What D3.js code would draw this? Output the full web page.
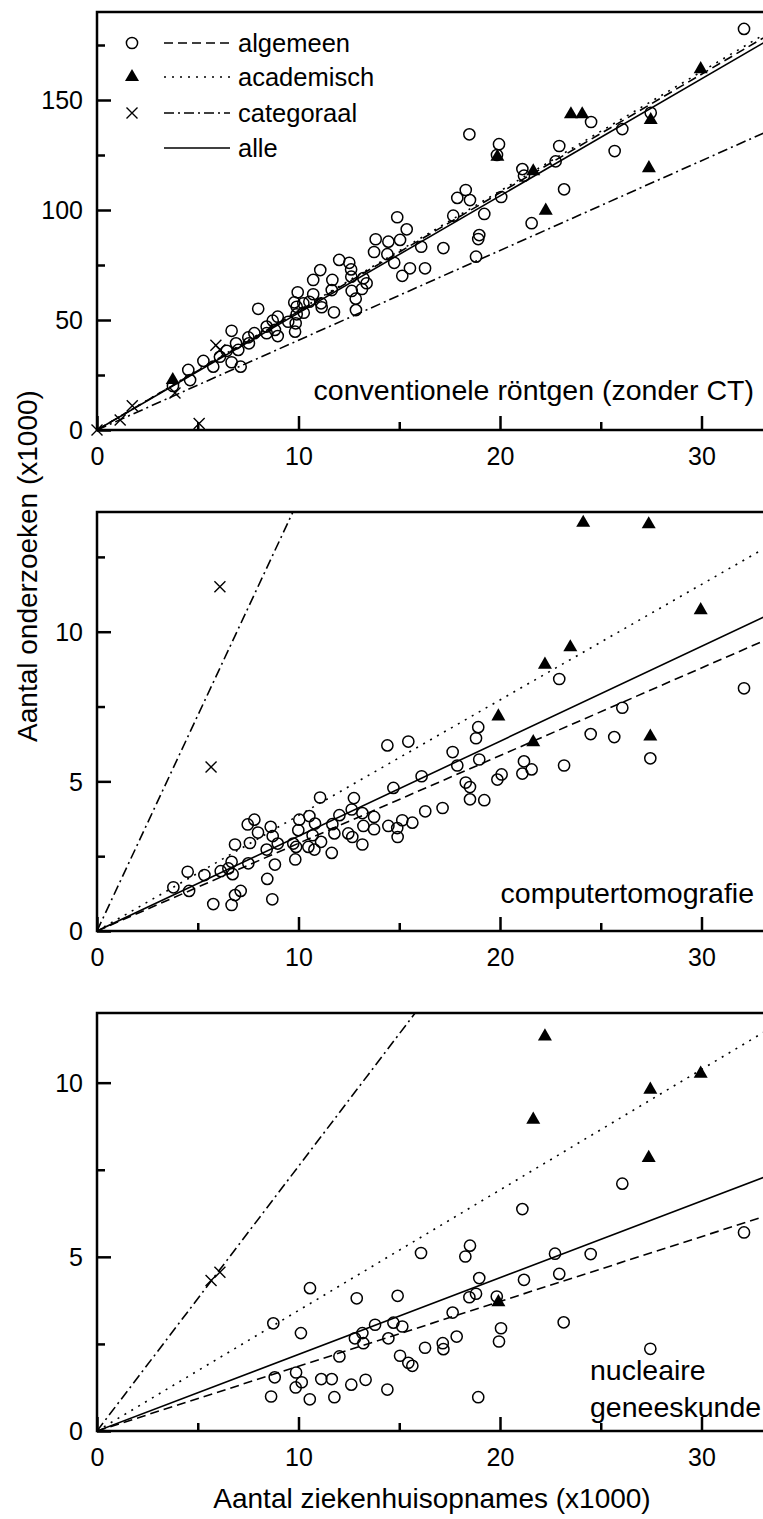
<!DOCTYPE html>
<html>
<head>
<meta charset="utf-8">
<script src="https://cdn.jsdelivr.net/npm/d3@7"></script>
<style>
  body { margin: 0; background: #fff; }
  svg { display: block; font-family: "Liberation Sans", Arial, sans-serif; }
</style>
</head>
<body>
<svg id="chart" width="763" height="1519"></svg>
<script>
// Aantal onderzoeken vs aantal ziekenhuisopnames (beide x1000), per ziekenhuistype

// --- conventionele röntgen ---
var convAlgemeen = [
    [14.9,96.7],[15.37,91.2],[13.83,86.7],[14.46,85.6],[15.04,86.4],[13.75,80.9],[14.41,79.9],[14.75,76.0],
    [15.53,73.5],[15.15,70.1],[12.02,77.3],[12.52,76.0],[12.61,73.0],[11.08,72.7],[12.62,69.7],[13.22,69.0],
    [11.68,68.2],[10.73,68.2],[13.38,66.7],[13.15,64.1],[12.64,63.2],[11.65,63.6],[9.96,62.6],[10.73,61.7],
    [12.84,59.7],[9.79,58.0],[10.24,57.6],[10.54,58.3],[11.12,57.6],[9.91,56.0],[11.15,55.8],[12.85,54.5],
    [11.76,53.5],[10.26,53.3],[9.91,52.6],[8.0,55.1],[8.97,51.5],[8.72,49.7],[8.42,47.0],[9.49,49.2],
    [9.86,48.5],[8.83,45.5],[8.42,44.0],[8.97,42.7],[9.83,44.7],[6.68,45.1],[7.81,44.0],[7.51,42.1],
    [6.9,39.4],[7.54,39.4],[6.44,36.0],[6.1,33.3],[7.01,36.4],[6.68,30.8],[7.13,28.8],[5.28,31.4],
    [5.77,28.8],[4.53,27.3],[4.62,22.7],[3.77,20.0],
    [32.11,182.3],[18.48,134.4],[19.95,129.9],[24.52,140.0],[22.94,129.1],[22.76,122.1],[26.07,136.8],
    [25.69,126.8],[27.48,144.2],[21.11,118.6],[21.19,115.6],[20.06,105.9],[23.18,109.4],[21.57,94.0],
    [18.3,109.1],[17.88,105.5],[18.51,104.5],[17.68,97.4],[19.22,98.2],[16.09,83.3],[17.19,82.7],
    [18.97,88.6],[18.92,86.8],[18.81,78.8],[16.28,73.5],[19.85,125.0]
];
var convAcademisch = [
    [29.96,164.0],[23.52,143.5],[24.08,143.5],[27.48,140.9],[19.87,124.2],[21.65,117.6],
    [22.27,99.7],[27.39,119.0],[3.76,22.7]
];
var convCategoraal = [[0,0],[1.15,4.5],[1.75,11],[3.87,16.8],[5.07,3.0],[5.9,38.5],[6.1,36.5]];
// slopes of the fits through the origin: algemeen, academisch, categoraal, alle
var convSlopes = [5.39, 5.43, 4.08, 5.32];

// --- computertomografie ---
var ctAlgemeen = [
    [14.41,6.2],[14.71,4.78],[11.07,4.46],[12.75,4.44],[7.48,3.56],[7.81,3.72],[8.62,3.48],[7.99,3.29],
    [8.72,3.17],[6.85,2.89],[7.59,2.94],[10.04,3.72],[10.54,3.84],[10.82,3.59],[9.99,3.37],[10.7,3.2],
    [9.88,2.81],[8.97,2.92],[9.74,2.92],[11.12,2.98],[10.49,2.81],[10.79,2.72],[11.65,2.61],[9.84,2.39],
    [11.68,3.57],[12.03,3.87],[11.78,3.26],[12.64,4.06],[13.17,3.94],[13.22,3.51],[13.75,3.81],[13.75,3.4],
    [12.47,3.26],[12.67,3.14],[13.17,2.89],[14.46,3.51],[14.92,3.14],[8.42,2.72],[8.83,2.22],[7.51,2.26],
    [6.68,2.31],[6.73,1.9],[6.14,2.0],[6.52,2.09],[5.33,1.87],[4.5,1.98],[3.79,1.46],[4.57,1.34],
    [8.45,1.74],[7.13,1.34],[6.85,1.2],[6.68,0.87],[5.77,0.9],[8.7,1.06],
    [22.94,8.42],[32.11,8.11],[26.07,7.46],[24.5,6.58],[25.67,6.48],[27.46,5.77],[23.18,5.53],[21.19,5.67],
    [21.11,5.26],[21.57,5.4],[20.08,5.23],[19.87,5.06],[18.92,6.81],[18.81,6.44],[18.97,5.73],[17.65,5.98],
    [17.88,5.53],[16.11,5.17],[15.45,6.33],[18.3,4.96],[18.51,4.81],[18.51,4.4],[19.22,4.37],[17.15,4.11],
    [16.29,4.0],[15.65,3.62],[15.15,3.7],[14.9,3.44]
];
var ctAcademisch = [
    [24.13,13.64],[27.38,13.59],[29.96,10.72],[23.49,9.48],[22.23,8.9],[19.92,7.17],[21.65,6.31],[27.46,6.5]
];
var ctCategoraal = [[6.1,11.5],[5.66,5.48]];
var ctSlopes = [0.293, 0.386, 1.44, 0.317];

// --- nucleaire geneeskunde ---
var nucAlgemeen = [
    [10.57,4.1],[12.89,3.81],[8.75,3.09],[10.12,2.81],[13.8,3.05],[13.17,2.81],[12.8,2.66],[13.22,2.52],
    [12.03,2.14],[21.11,6.37],[18.51,5.32],[18.28,5.01],[16.08,5.11],[18.97,4.39],[21.19,4.34],[14.92,3.88],
    [18.48,3.84],[18.81,3.94],[19.84,3.86],[17.65,3.4],[14.71,3.11],[15.15,3.0],[14.46,2.66],[20.05,2.95],
    [19.95,2.57],[17.85,2.71],[17.16,2.52],[17.19,2.35],[16.28,2.39],[15.04,2.16],[15.45,1.96],[15.65,1.87],
    [9.88,1.68],[10.16,1.4],[8.82,1.54],[9.86,1.25],[11.13,1.49],[11.65,1.49],[12.62,1.33],[13.33,1.47],
    [14.41,1.19],[8.64,0.99],[10.56,0.91],[11.78,0.97],[18.92,0.97],
    [32.11,5.7],[24.5,5.08],[22.73,5.09],[22.94,4.51],[23.16,3.12],[27.46,2.36],[26.07,7.1]
];
var nucAcademisch = [[22.23,11.33],[21.65,8.94],[27.46,9.8],[29.96,10.26],[27.38,7.84],[19.92,3.7]];
var nucCategoraal = [[5.66,4.32],[6.1,4.56]];
var nucSlopes = [0.186, 0.346, 0.76, 0.22];

// ticks
var xTicks = [0, 10, 20, 30];
var xMinorTicks = [5, 15, 25];
var convYTicks = [0, 50, 100, 150];
var convYMinor = [25, 75, 125, 175];
var ctYTicks = [0, 5, 10];
var ctYMinor = [2.5, 7.5, 12.5];
var nucYTicks = [0, 5, 10];
var nucYMinor = [2.5, 7.5];

var groupNames = ["algemeen", "academisch", "categoraal", "alle"];
var xTitle = "Aantal ziekenhuisopnames (x1000)";
var yTitle = "Aantal onderzoeken (x1000)";

(function() {

    var svg = d3.select("#chart");

    // dash pattern per fit line, same order as groupNames
    var dashes = ["9,5", "2,6", "10,4,2,4", null];

    var xMax = 35;
    var left = 97;
    var x = d3.scaleLinear().domain([0, xMax]).range([left, left + xMax * 20.15]);

    // panel boxes, built from the arrays above
    var panels = [
        { id: "conv", top: 12, bottom: 430, yMax: 190, circles: convAlgemeen, triangles: convAcademisch,
          crosses: convCategoraal, slopes: convSlopes, yTicks: convYTicks, yMinor: convYMinor },
        { id: "ct", top: 512, bottom: 931, yMax: 14, circles: ctAlgemeen, triangles: ctAcademisch,
          crosses: ctCategoraal, slopes: ctSlopes, yTicks: ctYTicks, yMinor: ctYMinor },
        { id: "nuc", top: 1013, bottom: 1431, yMax: 12, circles: nucAlgemeen, triangles: nucAcademisch,
          crosses: nucCategoraal, slopes: nucSlopes, yTicks: nucYTicks, yMinor: nucYMinor }
    ];

    var triangle = d3.symbol().type(d3.symbolTriangle).size(85);

    var crossPath = function(cx, cy, s) {
        return "M" + (cx - s) + "," + (cy - s) + "L" + (cx + s) + "," + (cy + s) +
               "M" + (cx - s) + "," + (cy + s) + "L" + (cx + s) + "," + (cy - s);
    };

    panels.forEach(function(p) {
        var y = d3.scaleLinear().domain([0, p.yMax]).range([p.bottom, p.top]);
        var g = svg.append("g").attr("class", "panel-" + p.id);

        svg.append("clipPath").attr("id", "clip-" + p.id)
            .append("rect")
            .attr("x", x(0)).attr("y", y(p.yMax))
            .attr("width", x(xMax) - x(0)).attr("height", y(0) - y(p.yMax));

        // fit lines through the origin
        var lines = g.append("g").attr("clip-path", "url(#clip-" + p.id + ")");
        p.slopes.forEach(function(s, i) {
            lines.append("line")
                .attr("x1", x(0)).attr("y1", y(0))
                .attr("x2", x(xMax)).attr("y2", y(s * xMax))
                .attr("stroke", "#000")
                .attr("stroke-width", 1.6)
                .attr("stroke-dasharray", dashes[i]);
        });

        // markers
        g.selectAll(".circ").data(p.circles).enter()
            .append("circle")
            .attr("class", "circ")
            .attr("cx", function(d) { return x(d[0]); })
            .attr("cy", function(d) { return y(d[1]); })
            .attr("r", 5.6)
            .attr("fill", "none")
            .attr("stroke", "#000")
            .attr("stroke-width", 1.5);

        g.selectAll(".tri").data(p.triangles).enter()
            .append("path")
            .attr("class", "tri")
            .attr("d", triangle)
            .attr("transform", function(d) { return "translate(" + x(d[0]) + "," + y(d[1]) + ")"; })
            .attr("fill", "#000");

        g.selectAll(".crs").data(p.crosses).enter()
            .append("path")
            .attr("class", "crs")
            .attr("d", function(d) { return crossPath(x(d[0]), y(d[1]), 5.5); })
            .attr("stroke", "#000")
            .attr("stroke-width", 1.4)
            .attr("fill", "none");

        // frame
        g.append("rect")
            .attr("x", x(0)).attr("y", y(p.yMax))
            .attr("width", x(xMax) - x(0)).attr("height", y(0) - y(p.yMax))
            .attr("fill", "none")
            .attr("stroke", "#000")
            .attr("stroke-width", 2.5);

        // axes: ticks point inwards
        var yAxis = g.append("g").attr("transform", "translate(" + x(0) + ",0)")
            .call(d3.axisLeft(y).tickValues(p.yTicks).tickSizeInner(-14).tickSizeOuter(0).tickPadding(14));
        var yMinor = g.append("g").attr("transform", "translate(" + x(0) + ",0)")
            .call(d3.axisLeft(y).tickValues(p.yMinor).tickSizeInner(-8).tickSizeOuter(0).tickFormat(""));
        var xAxis = g.append("g").attr("transform", "translate(0," + y(0) + ")")
            .call(d3.axisBottom(x).tickValues(xTicks).tickSizeInner(-14).tickSizeOuter(0).tickPadding(17));
        var xMinor = g.append("g").attr("transform", "translate(0," + y(0) + ")")
            .call(d3.axisBottom(x).tickValues(xMinorTicks).tickSizeInner(-8).tickSizeOuter(0).tickFormat(""));

        [yAxis, yMinor, xAxis, xMinor].forEach(function(a) {
            a.select(".domain").remove();
            a.selectAll("line").attr("stroke-width", 2.5);
            a.selectAll("text")
                .attr("font-family", "Liberation Sans, Arial, sans-serif")
                .attr("font-size", 25)
                .attr("fill", "#000");
        });
        yAxis.selectAll("text").attr("dy", "0.35em");
    });

    // panel names
    var label = function(tx, ty, anchor, txt) {
        svg.append("text")
            .attr("x", tx).attr("y", ty)
            .attr("text-anchor", anchor)
            .attr("font-size", 28.5)
            .text(txt);
    };
    label(754, 400, "end", "conventionele röntgen (zonder CT)");
    label(754, 903, "end", "computertomografie");
    label(590, 1380, "start", "nucleaire");
    label(590, 1417, "start", "geneeskunde");

    // legend (top panel)
    var legend = svg.append("g").attr("class", "legend");
    var rows = [43, 77, 113, 148];
    groupNames.forEach(function(name, i) {
        var ry = rows[i];
        if (i === 0) {
            legend.append("circle").attr("cx", 132).attr("cy", ry).attr("r", 5.6)
                .attr("fill", "none").attr("stroke", "#000").attr("stroke-width", 1.5);
        } else if (i === 1) {
            legend.append("path").attr("d", triangle).attr("transform", "translate(132," + ry + ")");
        } else if (i === 2) {
            legend.append("path").attr("d", crossPath(132, ry, 5.5))
                .attr("stroke", "#000").attr("stroke-width", 1.4);
        }
        legend.append("line")
            .attr("x1", 164).attr("x2", 230).attr("y1", ry).attr("y2", ry)
            .attr("stroke", "#000").attr("stroke-width", 1.6)
            .attr("stroke-dasharray", dashes[i]);
        legend.append("text")
            .attr("x", 238).attr("y", ry + 8.5)
            .attr("font-size", 25.5)
            .text(name);
    });

    // axis titles
    svg.append("text")
        .attr("x", 432).attr("y", 1508)
        .attr("text-anchor", "middle")
        .attr("font-size", 28)
        .text(xTitle);

    svg.append("text")
        .attr("transform", "translate(37,566) rotate(-90)")
        .attr("text-anchor", "middle")
        .attr("font-size", 28)
        .text(yTitle);

}());
</script>
</body>
</html>
